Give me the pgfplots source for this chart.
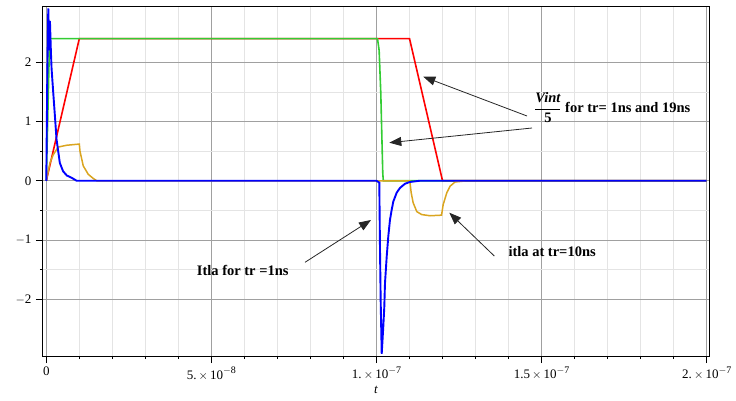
\documentclass[border=0pt]{standalone}
\usepackage{fontspec}
\setmainfont{Liberation Serif}
\usepackage{pgfplots}
\pgfplotsset{compat=1.18}
\usetikzlibrary{arrows.meta}
\definecolor{mgreen}{RGB}{51,204,51}
\definecolor{morange}{RGB}{218,165,32}
\definecolor{majgrid}{RGB}{160,160,160}
\definecolor{mingrid}{RGB}{228,228,228}
\newcommand{\sexp}[1]{\raisebox{0.45em}{\fontsize{10}{10}\selectfont$-$#1}}
\begin{document}
\begin{tikzpicture}[x=1pt,y=1pt]
\useasboundingbox (0,0) rectangle (736,400);
\begin{axis}[at={(43pt,44pt)}, anchor=south west, scale only axis,
  width=666.3pt, height=350pt,
  xmin=-1.0e-9, xmax=2.0079e-7, ymin=-2.957, ymax=2.95,
  scaled x ticks=false, scaled y ticks=false,
  xtick={0,5e-8,1e-7,1.5e-7,2e-7},
  xticklabels={0,{5.\,$\times$\,10\sexp{8}},{1.\,$\times$\,10\sexp{7}},{1.5\,$\times$\,10\sexp{7}},{2.\,$\times$\,10\sexp{7}}},
  minor x tick num=4,
  ytick={-2,-1,0,1,2}, yticklabels={$-$2,$-$1,0,1,2},
  minor y tick num=1,
  grid=both,
  major grid style={majgrid, line width=0.8pt},
  minor grid style={mingrid, line width=0.8pt},
  tick align=outside, major tick length=7pt, minor tick length=3pt,
  xtick pos=bottom, ytick pos=left,
  tick style={black, line width=0.8pt},
  axis line style={black, line width=1pt},
  ticklabel style={font=\fontsize{13}{15}\selectfont},
  yticklabel style={xshift=-1pt},
  xlabel={\textit{t}},
  xlabel style={font=\fontsize{13}{15}\selectfont, yshift=1pt},
]
% Vint/5, tr = 10ns (red)
\addplot[color=red, line width=1.6pt] coordinates {
(0,0) (1e-8,2.4) (1.1e-7,2.4) (1.2e-7,0) (2e-7,0)};
% Vint/5, tr = 1ns (green)
\addplot[color=mgreen, line width=1.6pt] coordinates {
(0,0) (1e-9,2.4) (1.003e-7,2.4) (1.008e-7,2.2) (1.013e-7,1.48) (1.016e-7,0.8)
(1.019e-7,0.13) (1.0206e-7,0) (2e-7,0)};
% itla, tr = 10ns (orange)
\addplot[color=morange, line width=1.5pt] coordinates {
(0,0) (1.1e-9,0.3) (2.1e-9,0.44) (3.6e-9,0.57) (6.2e-9,0.6) (1.0e-8,0.62)
(1.02e-8,0.5) (1.12e-8,0.25) (1.27e-8,0.11) (1.42e-8,0.04) (1.53e-8,0)
(1.101e-7,0) (1.105e-7,-0.2) (1.111e-7,-0.37) (1.122e-7,-0.52) (1.137e-7,-0.57)
(1.162e-7,-0.59) (1.197e-7,-0.58) (1.202e-7,-0.4) (1.213e-7,-0.2) (1.223e-7,-0.09)
(1.238e-7,-0.02) (1.273e-7,0) (2e-7,0)};
% itla, tr = 1ns (blue)
\addplot[color=blue, line width=1.9pt] coordinates {
(0,0) (0.15e-9,0.9) (0.3e-9,1.8) (0.6e-9,2.91) (0.9e-9,2.2) (1.1e-9,2.7)
(1.4e-9,2.17) (1.6e-9,1.89) (2.1e-9,1.49) (2.6e-9,1.1) (3.1e-9,0.7) (3.6e-9,0.5)
(4.1e-9,0.3) (5.1e-9,0.16) (6.2e-9,0.09) (7.7e-9,0.05) (9.2e-9,0)
(1.0e-7,0) (1.0085e-7,-0.03) (1.0106e-7,-1.16) (1.0127e-7,-2.04) (1.0158e-7,-2.92)
(1.0206e-7,-2.46) (1.0236e-7,-2.13) (1.0257e-7,-1.73) (1.0309e-7,-1.28)
(1.0357e-7,-0.94) (1.0408e-7,-0.66) (1.046e-7,-0.49) (1.0509e-7,-0.35)
(1.0612e-7,-0.2) (1.0712e-7,-0.12) (1.0863e-7,-0.05) (1.101e-7,-0.02)
(1.13e-7,0) (2e-7,0)};
\end{axis}
\begin{scope}[line width=0.8pt, color=black!85, -{Triangle[length=12pt,width=9pt]}]
\draw (527,284) -- (423.3,323.3);
\draw (532,272) -- (389.3,257.3);
\draw (305,137.7) -- (371,180);
\draw (494.3,144) -- (449.3,187.3);
\end{scope}
\node[anchor=base west, inner sep=0, font=\fontsize{14.5}{16}\selectfont\bfseries] at (196.7,125) {Itla for tr =1ns};
\node[anchor=base west, inner sep=0, font=\fontsize{14.5}{16}\selectfont\bfseries] at (508.3,144) {itla at tr=10ns};
\node[anchor=base west, inner sep=0, font=\fontsize{14.5}{16}\selectfont\bfseries] at (534,287.7) {$\displaystyle\frac{\mbox{\bfseries\itshape Vint}}{\mbox{\bfseries 5}}$ for tr= 1ns and 19ns};
\end{tikzpicture}
\end{document}
